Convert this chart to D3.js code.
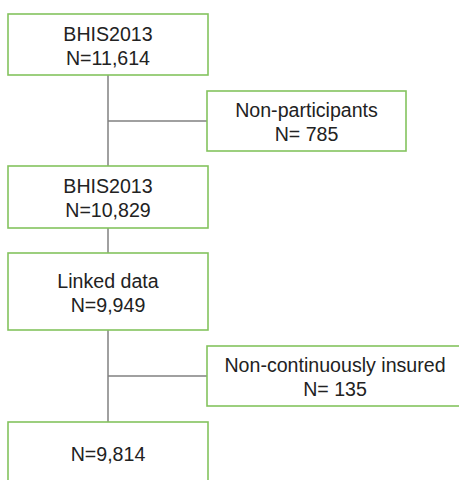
<!DOCTYPE html>
<html lang="en">
<head>
<meta charset="utf-8">
<title>Flow chart - BHIS2013</title>
<script src="https://cdn.jsdelivr.net/npm/d3@7"></script>
<style>
  body { margin: 0; background: #fff; }
  svg text { font-family: "Liberation Sans", Arial, sans-serif; font-size: 19.6px; fill: #222; }
</style>
</head>
<body>
<div id="chart"></div>
<script>
// main column of boxes
var mainLabels = ["BHIS2013", "BHIS2013", "Linked data", null];
var mainCounts = ["11,614", "10,829", "9,949", "9,814"];
// excluded boxes on the right
var sideLabels = ["Non-participants", "Non-continuously insured"];
var sideCounts = ["785", "135"];
var sideAfter = [0, 2]; // branch between main box i and i+1

var width = 459, height = 480;

var svg = d3.select("#chart").append("svg")
  .attr("width", width)
  .attr("height", height);

// layout (pixel positions of rows)
var mainTop = [14, 166, 253, 422];
var mainH = [61, 62, 77, 62];
var mainX = 8, mainW = 200;
var sideTop = [91, 346];
var sideH = 60;
var sideX = 207;
var sideW = [199, 256];
var stemX = mainX + mainW / 2;

var lineCol = "#808080", boxCol = "#84c35e";

// vertical stem between main boxes
var g = svg.append("g");
d3.range(mainTop.length - 1).forEach(function(i) {
  g.append("line")
    .attr("x1", stemX).attr("x2", stemX)
    .attr("y1", mainTop[i] + mainH[i]).attr("y2", mainTop[i + 1])
    .attr("stroke", lineCol).attr("stroke-width", 1.5);
});

// horizontal branches
sideAfter.forEach(function(a, i) {
  g.append("line")
    .attr("x1", stemX).attr("x2", sideX)
    .attr("y1", sideTop[i] + sideH / 2).attr("y2", sideTop[i] + sideH / 2)
    .attr("stroke", lineCol).attr("stroke-width", 1.5);
});

function drawBox(x, y, w, h, lines) {
  var b = svg.append("g");
  b.append("rect")
    .attr("x", x).attr("y", y).attr("width", w).attr("height", h)
    .attr("fill", "#fff").attr("stroke", boxCol).attr("stroke-width", 1.6);
  var cy = y + h / 2 + 1;
  var lh = 24;
  lines.forEach(function(t, k) {
    b.append("text")
      .attr("x", x + w / 2)
      .attr("y", cy + (k - (lines.length - 1) / 2) * lh)
      .attr("text-anchor", "middle")
      .attr("dominant-baseline", "central")
      .text(t);
  });
}

mainLabels.forEach(function(lab, i) {
  var lines = lab ? [lab, "N=" + mainCounts[i]] : ["N=" + mainCounts[i]];
  drawBox(mainX, mainTop[i], mainW, mainH[i], lines);
});

sideLabels.forEach(function(lab, i) {
  drawBox(sideX, sideTop[i], sideW[i], sideH, [lab, "N= " + sideCounts[i]]);
});
</script>
</body>
</html>
